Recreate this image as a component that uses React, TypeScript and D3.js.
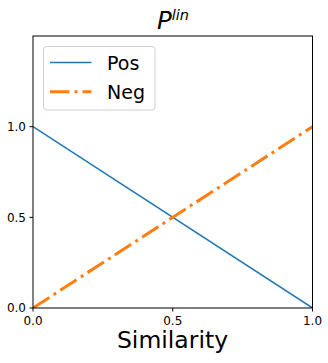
import React from "react";
import * as d3 from "d3";

const xs = [0, 1];
const posValues = [1, 0];
const negValues = [0, 1];
const xTicks = [0, 0.5, 1];
const yTicks = [0, 0.5, 1];
const seriesNames = ["Pos", "Neg"];

export default function App() {
  const W = 328, H = 363;
  const left = 33, right = 312.5, top = 36, bottom = 308;
  const x = d3.scaleLinear().domain([0, 1]).range([left, right]);
  const y = d3.scaleLinear().domain([0, 1.5]).range([bottom, top]);
  const line = d3.line<number>().x((_, i) => x(xs[i])).y((d) => y(d));
  const font = "DejaVu Sans, sans-serif";
  const dash = "19.5,5,3,5";
  return (
    <svg width={W} height={H} style={{ position: "absolute", left: 0, top: 0 }} fontFamily={font}>
      <rect width={W} height={H} fill="white" />
      <defs>
        <clipPath id="clip">
          <rect x={left} y={top} width={right - left} height={bottom - top} />
        </clipPath>
      </defs>
      <g clipPath="url(#clip)">
        <path d={line(posValues) || ""} fill="none" stroke="#1f77b4" strokeWidth={1.5} />
        <path d={line(negValues) || ""} fill="none" stroke="#ff7f0e" strokeWidth={3} strokeDasharray={dash} />
      </g>
      <rect x={left} y={top} width={right - left} height={bottom - top} fill="none" stroke="black" strokeWidth={1} />
      {xTicks.map((t) => (
        <g key={"x" + t}>
          <line x1={x(t)} x2={x(t)} y1={bottom} y2={bottom + 3.5} stroke="black" />
          <text x={x(t)} y={bottom + 17} fontSize={12} textAnchor="middle">{t.toFixed(1)}</text>
        </g>
      ))}
      {yTicks.map((t) => (
        <g key={"y" + t}>
          <line x1={left - 3.5} x2={left} y1={y(t)} y2={y(t)} stroke="black" />
          <text x={left - 7} y={y(t) + 4.4} fontSize={12} textAnchor="end">{t.toFixed(1)}</text>
        </g>
      ))}
      <text x={172.5} y={348} fontSize={23.5} textAnchor="middle">Similarity</text>
      <text x={173} y={29} fontSize={24.5} textAnchor="middle" fontStyle="italic">
        P<tspan dy={-9} fontSize={14.5}>lin</tspan>
      </text>
      <g>
        <rect x={43.5} y={46.5} width={111.5} height={63.5} rx={3} fill="white" fillOpacity={0.8} stroke="#d0d0d0" strokeWidth={1} />
        <line x1={50} x2={91.5} y1={62.5} y2={62.5} stroke="#1f77b4" strokeWidth={1.5} />
        <line x1={50} x2={91.5} y1={91.7} y2={91.7} stroke="#ff7f0e" strokeWidth={3} strokeDasharray={dash} />
        <text x={107} y={70} fontSize={19}>{seriesNames[0]}</text>
        <text x={107} y={99} fontSize={19}>{seriesNames[1]}</text>
      </g>
    </svg>
  );
}
